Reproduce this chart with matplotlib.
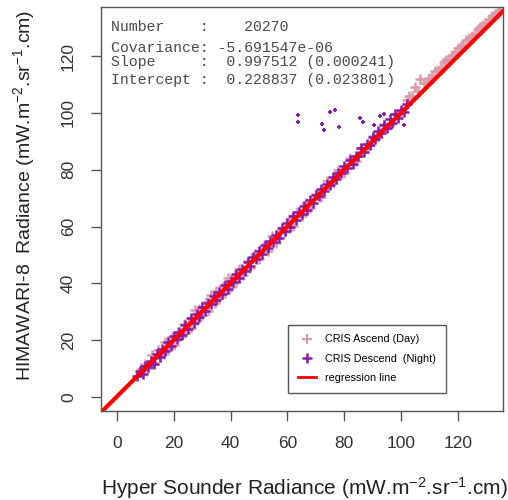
import matplotlib
matplotlib.use("Agg")
import matplotlib.pyplot as plt
from matplotlib.lines import Line2D

plt.rcParams['font.family'] = ['Liberation Sans', 'DejaVu Sans']
plt.rcParams['mathtext.default'] = 'regular'

# CRIS ascending (day) samples
asc_x = [8.5, 10, 11, 12.5, 13, 14.5, 15, 16.5, 17, 18, 19.5, 20, 21.5, 22, 23.5, 24,
         25.5, 26, 27.5, 28, 29, 30, 31.5, 32, 33, 34.5, 35, 36, 37.5, 38, 39, 40,
         41.5, 42, 43, 44.5, 46, 47, 48.5, 50, 51.5, 53, 54.5, 56, 57.5, 59, 61, 62,
         63.5, 65, 66.5, 68, 70, 72, 74, 76, 78, 80, 82, 84, 86, 88, 90, 92, 94, 96,
         98, 100, 102, 103, 104, 105, 106, 106.7, 108, 110, 112, 114, 116, 118, 120,
         122, 124, 126, 128, 130, 132, 134,
         109, 111, 113, 115, 117, 119, 121, 123, 125, 127, 129, 131, 133, 135]
asc_y = [9.8, 11.5, 10.2, 14.8, 12.0, 16.5, 14.2, 15.0, 19.5, 17.2, 21.2, 18.3, 22.8, 21.0, 25.8, 22.5,
         26.0, 24.3, 30.5, 27.2, 31.0, 28.8, 33.5, 30.4, 35.8, 33.2, 37.5, 34.8, 39.2, 36.5, 42.0, 38.8,
         43.0, 40.6, 45.2, 43.0, 48.0, 45.5, 50.2, 48.6, 53.0, 51.4, 56.6, 54.2, 58.5, 58.0, 62.8, 60.2,
         65.0, 63.8, 68.3, 66.6, 71.5, 70.4, 76.0, 75.2, 79.8, 79.0, 84.0, 83.2, 87.5, 87.6, 92.0, 91.5, 96.0, 95.8,
         99.8, 100.5, 104.5, 106.0, 106.0, 109.0, 107.8, 112.0, 110.5, 112.2, 114.8, 116.0, 118.5, 120.4, 122.8,
         124.0, 126.5, 127.8, 130.2, 131.5, 134.0, 135.5,
         110.6, 113.0, 115.2, 117.8, 119.0, 121.6, 123.4, 125.6, 127.0, 129.4, 131.0, 133.2, 135.0, 136.4]

# CRIS descending (night) samples along the diagonal
desc_x = [7, 8, 9, 10, 11, 12, 13, 14, 15, 16, 17, 18, 19, 20, 21, 22, 23, 24, 25, 26,
          27, 28, 29, 30, 31, 32, 33, 34, 35, 36, 37, 38, 39, 40, 41, 42, 43, 44, 45, 46,
          47, 48, 49, 50, 51, 52, 53, 54, 55, 56, 57, 58, 59, 60, 61, 62, 63, 64, 65, 66,
          67, 68, 69, 70, 71, 72, 73, 74, 75, 76, 77, 78, 79, 80, 81, 82, 83, 84, 85, 86,
          87, 88, 89, 90, 91, 92, 93, 94, 95, 96, 97, 98, 99, 100, 101, 102]
desc_y = [7.5, 9.2, 8.0, 11.0, 10.5, 12.8, 11.8, 15.2, 14.0, 17.0, 16.2, 19.4, 18.0, 21.6, 20.4, 23.0, 22.0, 25.4, 24.0, 27.8,
          26.0, 29.4, 28.2, 31.8, 30.2, 33.0, 32.6, 35.6, 34.2, 37.0, 36.4, 39.6, 38.2, 41.0, 40.6, 43.4, 42.0, 45.2, 44.4, 47.6,
          46.0, 49.2, 48.6, 51.4, 50.2, 53.6, 52.4, 55.0, 54.6, 57.2, 56.0, 59.4, 58.6, 61.2, 60.0, 63.6, 62.2, 65.0, 64.4, 67.2,
          66.0, 69.4, 68.4, 71.0, 70.6, 73.2, 72.4, 75.0, 74.8, 77.4, 76.6, 79.0, 78.8, 81.2, 80.6, 83.4, 82.2, 85.0, 84.8, 87.6,
          86.4, 89.2, 88.6, 91.4, 91.0, 93.8, 93.0, 95.6, 94.6, 97.8, 96.4, 99.6, 98.4, 101.0, 100.2, 103.2]

# the scattered night outliers near y = 100
out_x = [63.7, 63.7, 72.2, 72.9, 75.0, 76.8, 78.2, 85.6, 86.6, 90.5, 92.5, 94.0, 101.0]
out_y = [99.3, 96.8, 96.1, 94.0, 100.4, 100.9, 95.1, 98.2, 96.8, 95.8, 98.8, 99.8, 95.8]

n_points = 20270
covariance = "-5.691547e-06"
slope, slope_err = 0.997512, 0.000241
intercept, intercept_err = 0.228837, 0.023801

PINK = "#d99aaa"
PURPLE = "#8a1aa8"

fig = plt.figure(figsize=(5.08, 5.0), dpi=100)
ax = fig.add_axes([0.199, 0.178, 0.791, 0.808])

ax.plot(asc_x, asc_y, ls="none", marker="+", ms=7, mew=1.8, color=PINK)
ax.plot(desc_x, desc_y, ls="none", marker="+", ms=6.5, mew=1.8, color=PURPLE)
ax.plot(out_x, out_y, ls="none", marker="+", ms=3.5, mew=1.4, color=PURPLE)
ax.axline((0, intercept), slope=slope, color="red", lw=3)

ax.set_xlim(-5.6, 135.9)
ax.set_ylim(-4.9, 137.3)
ax.set_xticks(range(0, 121, 20))
ax.set_yticks(range(0, 121, 20))

for s in ax.spines.values():
    s.set_color("#555555")
    s.set_linewidth(1.0)
ax.tick_params(axis="both", length=7, width=1.0, color="#555555",
               labelsize=12.5, labelcolor="#333333")
ax.tick_params(axis="x", pad=11)
ax.tick_params(axis="y", pad=11, labelrotation=90)
for lab in ax.get_yticklabels():
    lab.set_va("center")

ax.set_xlabel("Hyper Sounder Radiance (mW.m$^{-2}$.sr$^{-1}$.cm)", fontsize=15, color="#222222")
ax.set_ylabel("HIMAWARI-8  Radiance (mW.m$^{-2}$.sr$^{-1}$.cm)", fontsize=14, color="#222222")
ax.xaxis.set_label_coords(0.505, -0.158)
ax.yaxis.set_label_coords(-0.16, 0.535)

mono = dict(family="Liberation Mono", fontsize=10.7, color="#4a4a4a",
            transform=ax.transAxes, va="center", ha="left")
ax.text(0.025, 0.950, f"Number    :    {n_points}", **mono)
ax.text(0.025, 0.899, f"Covariance: {covariance}", **mono)
ax.text(0.025, 0.864, f"Slope     :  {slope:.6f} ({slope_err:.6f})", **mono)
ax.text(0.025, 0.819, f"Intercept :  {intercept:.6f} ({intercept_err:.6f})", **mono)

handles = [
    Line2D([], [], ls="none", marker="+", ms=7, mew=1.6, color=PINK),
    Line2D([], [], ls="none", marker="+", ms=7, mew=1.8, color=PURPLE),
    Line2D([], [], color="red", lw=2),
]
leg = ax.legend(handles, ["CRIS Ascend (Day)", "CRIS Descend  (Night)", "regression line"],
                loc="lower left", bbox_to_anchor=(0.452, 0.032), fontsize=7.8,
                fancybox=False, framealpha=1, edgecolor="#555555",
                handlelength=1.7, handletextpad=0.8, labelspacing=0.85, borderpad=0.9)
leg.get_frame().set_linewidth(1.0)

fig.savefig("out.png", dpi=100)
